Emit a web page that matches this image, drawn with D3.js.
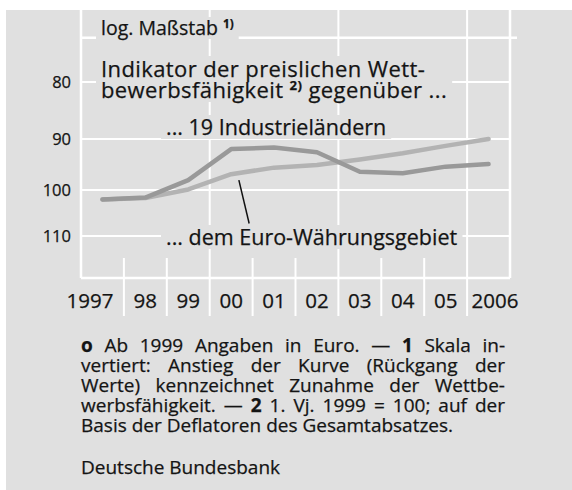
<!DOCTYPE html>
<html>
<head>
<meta charset="utf-8">
<script src="https://cdn.jsdelivr.net/npm/d3@7"></script>
<style>
body { margin: 0; background: #fff; }
text { font-family: "Open Sans", sans-serif; fill: #141414; stroke: #141414; stroke-width: 0.25px; }
</style>
</head>
<body>
<div id="chart"></div>
<script>
// data (log scale, inverted)
var years = [1997, 1998, 1999, 2000, 2001, 2002, 2003, 2004, 2005, 2006];
var yearLabels = ["1997", "98", "99", "00", "01", "02", "03", "04", "05", "2006"];
var industrie = [102.0, 101.6, 98.0, 91.9, 91.6, 92.5, 96.3, 96.6, 95.3, 94.8];
var euroRaum = [102.0, 101.7, 99.9, 96.8, 95.5, 95.0, 93.9, 92.7, 91.3, 90.0];
var yTicks = [80, 90, 100, 110];
var majorYears = [2000, 2003, 2006];
var minorYears = [1998, 1999, 2001, 2002, 2004, 2005];
var pointerYears = [2000.68, 2000.92];
var pointerValues = [98.0, 107.2];

var footLines = [
    "*o Ab 1999 Angaben in Euro. — *1 Skala in-",
    "vertiert: Anstieg der Kurve (Rückgang der",
    "Werte) kennzeichnet Zunahme der Wettbe-",
    "werbsfähigkeit. — *2 1. Vj. 1999 = 100; auf der",
    "Basis der Deflatoren des Gesamtabsatzes."
];

var W = 572, H = 490;
var bg = "#e0e0e0";

var svg = d3.select("#chart").append("svg")
    .attr("width", W)
    .attr("height", H);

svg.append("rect")
    .attr("x", 6).attr("y", 10)
    .attr("width", W - 6).attr("height", H - 10)
    .attr("fill", bg);

var xScale = d3.scaleLinear().domain([1997, 2007]).range([81, 510]);
var yScale = d3.scaleLog().domain([80, 110]).range([82, 236]);
var yTop = yScale(73), yBottom = yScale(120);

// grid
var grid = svg.append("g").attr("stroke", "#fff").attr("fill", "none");

grid.selectAll(".hline").data(yTicks).enter().append("line")
    .attr("x1", xScale(1997)).attr("x2", xScale(2007))
    .attr("y1", d => yScale(d)).attr("y2", d => yScale(d))
    .attr("stroke-width", 2);

grid.append("line")
    .attr("x1", xScale(1997)).attr("x2", xScale(2007) + 7)
    .attr("y1", yTop).attr("y2", yTop).attr("stroke-width", 2.5);
grid.append("line")
    .attr("x1", xScale(1997)).attr("x2", xScale(2007))
    .attr("y1", yBottom).attr("y2", yBottom).attr("stroke-width", 2.5);

grid.selectAll(".frame").data([1997, 2007]).enter().append("line")
    .attr("x1", d => xScale(d)).attr("x2", d => xScale(d))
    .attr("y1", 10).attr("y2", yBottom)
    .attr("stroke-width", 2.5);

grid.selectAll(".major").data(majorYears).enter().append("line")
    .attr("x1", d => xScale(d)).attr("x2", d => xScale(d))
    .attr("y1", 10).attr("y2", 316)
    .attr("stroke-width", 2);

grid.selectAll(".minor").data(minorYears).enter().append("line")
    .attr("x1", d => xScale(d)).attr("x2", d => xScale(d))
    .attr("y1", 258).attr("y2", 316)
    .attr("stroke-width", 2);

var haloLayer = svg.append("g");
var lineLayer = svg.append("g");
var textLayer = svg.append("g");

// y axis labels
var yAxis = d3.axisLeft(yScale).tickValues(yTicks).tickSize(0).tickPadding(0).tickFormat(d3.format("d"));
var yg = textLayer.append("g").attr("transform", "translate(71,0)").call(yAxis);
yg.select(".domain").remove();
yg.selectAll("text")
    .attr("font-family", null)
    .attr("font-size", 16.5)
    .attr("fill", null)
    .attr("dy", "0.36em");

// x labels
textLayer.selectAll(".year").data(years).enter().append("text")
    .attr("x", function(d, i) {
        if (i == 0) return xScale(d + 0.5) + 11;
        if (i == years.length - 1) return xScale(d + 0.5) - 17;
        return xScale(d + 0.5);
    })
    .attr("y", 308)
    .attr("text-anchor", function(d, i) {
        if (i == 0) return "end";
        if (i == years.length - 1) return "start";
        return "middle";
    })
    .attr("font-size", 20.5)
    .text((d, i) => yearLabels[i]);

// series
var line = d3.line()
    .x((d, i) => xScale(years[i] + 0.5))
    .y(d => yScale(d));

lineLayer.append("path").datum(euroRaum)
    .attr("fill", "none").attr("stroke", "#b3b3b3")
    .attr("stroke-width", 4.5).attr("stroke-linejoin", "round").attr("stroke-linecap", "round")
    .attr("d", line);

lineLayer.append("path").datum(industrie)
    .attr("fill", "none").attr("stroke", "#999")
    .attr("stroke-width", 4.5).attr("stroke-linejoin", "round").attr("stroke-linecap", "round")
    .attr("d", line);

lineLayer.append("line")
    .attr("x1", xScale(pointerYears[0])).attr("y1", yScale(pointerValues[0]))
    .attr("x2", xScale(pointerYears[1])).attr("y2", yScale(pointerValues[1]))
    .attr("stroke", "#111").attr("stroke-width", 1.5);

// labels inside plot; each line is a list of parts, a part with sup is raised
function addLabel(x, y, size, lh, rows, spacing) {
    var t = textLayer.append("text").attr("font-size", size);
    if (spacing) t.attr("letter-spacing", spacing);
    rows.forEach(function(parts, r) {
        var shift = 0;
        parts.forEach(function(p, k) {
            var s = t.append("tspan");
            if (k == 0) s.attr("x", x).attr("y", y + r * lh);
            if (p.sup) {
                s.attr("font-size", size * 0.6).attr("font-weight", "bold")
                    .attr("dy", -size * 0.38).text(p.sup);
                shift = size * 0.38;
            } else {
                if (shift) { s.attr("dy", shift); shift = 0; }
                s.text(p.t);
            }
        });
    });
    var b = t.node().getBBox();
    haloLayer.append("rect")
        .attr("x", b.x - 5).attr("y", b.y + 3)
        .attr("width", b.width + 10).attr("height", b.height - 5)
        .attr("fill", bg);
    return t;
}

addLabel(101, 35, 19.5, 0, [[{t: "log. Maßstab "}, {sup: "1)"}]]);
addLabel(101, 77, 22, 21, [
    [{t: "Indikator der preislichen Wett-"}],
    [{t: "bewerbsfähigkeit "}, {sup: "2)"}, {t: " gegenüber ..."}]
], 0.4);
addLabel(166, 135, 21.5, 0, [[{t: "... 19 Industrieländern"}]]);
addLabel(166, 245, 21.5, 0, [[{t: "... dem Euro-Währungsgebiet"}]]);

// footnote, lines justified with word-spacing
var footX0 = 81, footX1 = 505, footY = 352, footLh = 20;
var foot = textLayer.append("text").attr("font-size", 19);
footLines.forEach(function(str, li) {
    var row = foot.append("tspan").attr("x", footX0).attr("y", footY + li * footLh);
    var words = str.split(" ");
    words.forEach(function(w, i) {
        var bold = w.charAt(0) == "*";
        var s = row.append("tspan").text((bold ? w.slice(1) : w) + (i < words.length - 1 ? " " : ""));
        if (bold) s.attr("font-weight", "bold");
    });
    if (li < footLines.length - 1) {
        var natural = row.node().getComputedTextLength();
        var extra = (footX1 - footX0 - natural) / (words.length - 1);
        row.style("word-spacing", extra + "px");
    }
});

textLayer.append("text")
    .attr("x", footX0).attr("y", footY + (footLines.length - 1) * footLh + 42)
    .attr("font-size", 19)
    .text("Deutsche Bundesbank");
</script>
</body>
</html>
